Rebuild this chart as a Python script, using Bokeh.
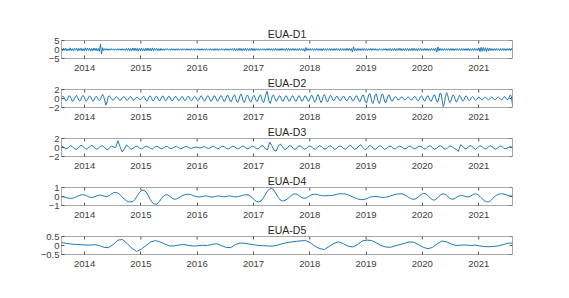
import pandas as pd
from bokeh.plotting import figure
from bokeh.layouts import column
from bokeh.models import Range1d, FixedTicker, DatetimeTickFormatter
from bokeh.embed import file_html
from bokeh.resources import INLINE

# ---------------- data ----------------
titles = ["EUA-D1", "EUA-D2", "EUA-D3", "EUA-D4", "EUA-D5"]
y_limits = [5, 2, 2, 1, 0.5]
y_ticks = [[-5, 0, 5], [-2, 0, 2], [-2, 0, 2], [-1, 0, 1], [-0.5, 0, 0.5]]
tick_years = [2014, 2015, 2016, 2017, 2018, 2019, 2020, 2021]
axis_start = "2013-08-04"
axis_end = "2021-08-08"

# weekly detail level 1
d1 = [
    0.6, -0.7, 0.8, -0.5, 0.7, -0.8, 0.4, -0.6, 0.9, -0.7, 0.5, -0.8, 0.7, -0.4, 0.8, -0.9, 0.6, -0.5, 0.7, -0.8,
    0.5, -0.7, 0.9, -0.6, 0.8, -0.5, 0.7, -0.9, 0.6, -0.7, 0.8, -0.5, 0.7, -0.8, 0.6, -1.0, 2.9, -2.5, 1.0, -0.6,
    0.5, -0.4, 0.5, -0.5, 0.4, -0.4, 0.5, -0.4, 0.4, -0.5, 0.4, -0.4, 0.5, -0.4, 0.4, -0.5, 0.5, -0.4, 0.4, -0.5,
    0.6, -0.5, 0.7, -0.8, 0.6, -0.7, 0.9, -0.6, 0.8, -0.7, 0.6, -0.9, 0.7, -0.6, 0.8, -0.7, 0.5, -0.8, 0.7, -0.6,
    0.8, -0.7, 0.6, -0.8, 0.9, -0.7, 0.6, -0.5, 0.7, -0.6, 0.5, -0.7, 0.6, -0.5, 0.4, -0.5, 0.5, -0.4, 0.5, -0.4,
    0.4, -0.5, 0.5, -0.4, 0.4, -0.5, 0.4, -0.4, 0.5, -0.4, 0.4, -0.5, 0.5, -0.4, 0.4, -0.4, 0.5, -0.4, 0.4, -0.5,
    0.5, -0.4, 0.4, -0.5, 0.4, -0.4, 0.5, -0.5, 0.4, -0.4, 0.5, -0.4, 0.4, -0.5, 0.5, -0.4, 0.4, -0.5, 0.5, -0.4,
    0.4, -0.5, 0.5, -0.4, 0.5, -0.5, 0.4, -0.4, 0.5, -0.4, 0.4, -0.5, 0.5, -0.4, 0.4, -0.5, 0.5, -0.4, 0.6, -0.5,
    0.6, -0.7, 0.5, -0.6, 0.7, -0.5, 0.6, -0.7, 0.5, -0.6, 0.7, -0.6, 0.5, -0.7, 0.6, -0.5, 0.7, -0.6, 0.5, -0.6,
    0.5, -0.4, 0.5, -0.5, 0.4, -0.4, 0.5, -0.4, 0.4, -0.5, 0.5, -0.4, 0.6, -0.5, 0.5, -0.6, 0.5, -0.5, 0.6, -0.5,
    0.5, -0.6, 0.5, -0.5, 0.6, -0.5, 0.5, -0.6, 0.7, -0.5, 0.6, -0.6, 0.5, -0.5, 0.6, -0.5, 0.5, -0.6, 0.5, -0.5,
    0.6, -0.5, 0.5, -0.6, 0.5, -1.0, 1.1, -0.6, 0.5, -0.5, 0.6, -0.5, 0.5, -0.6, 0.5, -0.5, 0.6, -0.5, 0.5, -0.6,
    0.5, -0.6, 0.6, -0.5, 0.5, -0.6, 0.5, -0.5, 0.6, -0.5, 0.5, -0.6, 0.5, -0.5, 0.6, -0.5, 0.5, -0.6, 0.5, -0.5,
    0.6, -0.5, 0.5, -0.6, 0.7, -0.5, 0.6, -0.6, 0.5, -1.4, 1.5, -0.7, 0.5, -0.7, 0.6, -0.5, 0.5, -0.6, 0.5, -0.5,
    0.6, -0.5, 0.5, -0.6, 0.5, -0.5, 0.6, -0.5, 0.5, -0.4, 0.5, -0.5, 0.4, -0.5, 0.5, -0.4, 0.4, -0.5, 0.5, -0.4,
    0.5, -0.6, 0.5, -0.5, 0.6, -0.7, 0.5, -0.6, 0.7, -0.6, 0.5, -0.6, 0.7, -0.5, 0.6, -0.7, 0.5, -0.6, 0.6, -0.5,
    0.6, -0.7, 0.5, -0.6, 0.7, -0.5, 0.6, -0.6, 0.5, -0.7, 0.6, -0.5, 0.7, -0.6, 0.5, -0.6, 0.6, -0.5, 0.5, -0.6,
    0.5, -0.6, 0.6, -0.5, 0.5, -0.7, 0.8, -1.5, 1.4, -0.7, 0.6, -0.5, 0.5, -0.6, 0.5, -0.5, 0.6, -0.5, 0.5, -0.6,
    0.6, -0.5, 0.5, -0.6, 0.5, -0.5, 0.6, -0.5, 0.5, -0.6, 0.6, -0.5, 0.5, -0.6, 0.5, -0.5, 0.6, -0.7, 0.5, -0.6,
    0.5, -0.6, 0.6, -0.5, 0.5, -0.6, 0.9, -1.1, 1.2, -1.0, 1.1, -0.9, 1.0, -1.2, 0.9, -0.8, 0.7, -0.6, 0.5, -0.6,
    0.5, -0.5, 0.6, -0.5, 0.5, -0.6, 0.5, -0.5, 0.6, -0.5, 0.5, -0.6, 0.5, -0.5, 0.6, -0.5, 0.5, -0.4,
]

# weekly detail level 2
d2 = [
    0.2, 0.5, 0.4, -0.1, -0.5, -0.4, 0.1, 0.6, 0.5, 0.0, -0.6, -0.5, 0.0, 0.5, 0.7, 0.2, -0.4, -0.6, -0.2, 0.4,
    0.7, 0.3, -0.3, -0.6, -0.3, 0.3, 0.6, 0.4, -0.2, -0.6, -0.4, 0.2, 0.5, 0.3, -0.2, -0.5, -0.2, 0.4, 0.9, 0.4,
    -0.5, -1.5, -0.8, 0.2, 0.6, 0.4, 0.0, -0.3, -0.4, -0.1, 0.3, 0.4, 0.2, -0.2, -0.4, -0.3, 0.1, 0.3, 0.4, 0.1,
    -0.3, -0.4, -0.1, 0.3, 0.4, 0.1, -0.3, -0.4, -0.1, 0.2, 0.3, 0.1, -0.2, -0.3, 0.0, 0.3, 0.5, 0.2, -0.4, -0.6,
    -0.2, 0.4, 0.6, 0.2, -0.4, -0.5, -0.1, 0.4, 0.5, 0.1, -0.4, -0.5, 0.0, 0.5, 0.5, 0.0, -0.5, -0.4, 0.1, 0.5,
    0.4, -0.1, -0.5, -0.4, 0.1, 0.4, 0.4, 0.0, -0.4, -0.4, 0.0, 0.4, 0.4, -0.1, -0.5, -0.3, 0.2, 0.5, 0.3, -0.2,
    -0.5, -0.3, 0.2, 0.5, 0.3, -0.2, -0.5, -0.3, 0.2, 0.6, 0.4, -0.2, -0.6, -0.4, 0.2, 0.6, 0.5, -0.1, -0.6, -0.5,
    0.1, 0.6, 0.5, -0.1, -0.6, -0.5, 0.1, 0.6, 0.6, 0.0, -0.6, -0.6, 0.0, 0.6, 0.7, 0.1, -0.6, -0.7, -0.1, 0.6,
    0.8, 0.2, -0.6, -0.9, -0.3, 0.6, 1.0, 0.4, -0.6, -0.9, -0.3, 0.5, 0.8, 0.3, -0.5, -0.8, -0.3, 0.4, 0.7, 0.2,
    -0.5, -0.7, -0.1, 0.6, 0.8, 0.1, -0.7, -0.9, 0.0, 0.9, 1.6, 0.6, -0.8, -1.1, -0.3, 0.6, 0.8, 0.2, -0.5, -0.6,
    -0.1, 0.5, 0.6, 0.1, -0.5, -0.6, -0.1, 0.5, 0.6, 0.1, -0.5, -0.6, 0.0, 0.5, 0.6, 0.1, -0.5, -0.6, -0.1, 0.5,
    0.6, 0.0, -0.6, -0.5, 0.1, 0.6, 0.5, -0.1, -0.6, -0.5, 0.2, 0.7, 0.6, -0.2, -0.8, -0.6, 0.3, 0.9, 0.5, -0.4,
    -0.9, -0.4, 0.5, 0.9, 0.4, -0.5, -0.8, -0.2, 0.5, 0.7, 0.2, -0.4, -0.5, -0.1, 0.4, 0.5, 0.1, -0.4, -0.5, -0.1,
    0.4, 0.5, 0.1, -0.4, -0.5, -0.1, 0.4, 0.5, 0.1, -0.5, -0.5, 0.0, 0.5, 0.6, 0.1, -0.5, -0.7, -0.1, 0.6, 0.8,
    0.1, -0.8, -1.0, -0.2, 0.8, 1.1, 0.3, -0.8, -1.1, -0.3, 0.8, 1.0, 0.2, -0.9, -1.1, -0.2, 0.9, 1.0, 0.1, -0.8,
    -0.9, -0.1, 0.7, 0.8, 0.1, -0.5, -0.6, -0.1, 0.3, 0.4, 0.1, -0.3, -0.3, 0.0, 0.3, 0.3, 0.0, -0.3, -0.3, 0.0,
    0.3, 0.3, 0.0, -0.3, -0.3, 0.1, 0.4, 0.4, 0.0, -0.4, -0.5, -0.1, 0.4, 0.6, 0.2, -0.4, -0.6, -0.1, 0.5, 0.6,
    0.1, -0.5, -0.6, 0.0, 0.7, 0.8, 0.1, -0.7, -0.8, 0.2, 1.2, 1.0, -0.5, -1.8, -1.1, 0.3, 1.3, 0.9, -0.3, -0.9,
    -0.6, 0.3, 0.8, 0.6, -0.2, -0.8, -0.6, 0.2, 0.7, 0.5, -0.2, -0.6, -0.4, 0.2, 0.6, 0.4, -0.2, -0.5, -0.3, 0.2,
    0.4, 0.2, -0.2, -0.4, -0.2, 0.2, 0.3, 0.1, -0.2, -0.3, -0.1, 0.2, 0.3, 0.1, -0.2, -0.3, -0.1, 0.2, 0.3, 0.1,
    -0.2, -0.3, -0.1, 0.2, 0.3, 0.1, -0.2, -0.3, 0.0, 0.3, 0.4, 0.1, -0.3, -0.2, 0.3, 0.8, 0.4, -1.5,
]

# biweekly detail level 3
d3 = [
    0.3, 0.1, -0.3, -0.1, 0.4, 0.2, -0.3, -0.4, 0.1, 0.5, 0.2, -0.3, -0.3,
    0.2, 0.5, 0.1, -0.4, -0.2, 0.3, 0.4, -0.1, -0.5, -0.2, 0.3, 0.1, 0.0,
    1.5, 0.2, -1.0, -0.3, 0.6, 0.1, -0.4, -0.2, 0.2, 0.3, -0.1, -0.3, 0.0,
    0.3, 0.1, -0.2, -0.3, 0.1, 0.3, 0.0, -0.3, -0.1, 0.2, 0.2, -0.2, -0.2,
    0.1, 0.3, 0.0, -0.3, -0.1, 0.2, 0.2, -0.1, -0.2, 0.0, 0.1, 0.0, -0.1,
    0.1, 0.2, -0.1, -0.2, 0.1, 0.3, 0.0, -0.3, -0.1, 0.3, 0.2, -0.2, -0.3,
    0.0, 0.3, 0.1, -0.3, -0.2, 0.2, 0.3, -0.1, -0.3, 0.0, 0.3, 0.1, -0.3,
    -0.2, 0.3, 0.4, -0.3, -0.5, 1.2, 0.4, -0.6, -0.8, 0.3, 0.8, 0.1, -0.5,
    -0.2, 0.4, 0.3, -0.3, -0.4, 0.2, 0.4, 0.0, -0.4, -0.2, 0.3, 0.3, -0.2,
    -0.4, 0.0, 0.4, 0.2, -0.3, -0.3, 0.2, 0.4, 0.0, -0.4, -0.2, 0.3, 0.3,
    -0.2, -0.4, 0.1, 0.5, 0.2, -0.4, -0.3, 0.3, 0.6, 0.0, -0.5, -0.2, 0.4,
    0.3, -0.3, -0.4, 0.2, 0.4, 0.0, -0.4, -0.2, 0.3, 0.3, -0.2, -0.3, 0.1,
    0.3, 0.1, -0.3, -0.2, 0.2, 0.3, -0.1, -0.3, 0.0, 0.3, 0.2, -0.3, -0.3,
    0.2, 0.4, 0.0, -0.4, -0.2, 0.3, 0.4, -0.1, -0.4, -0.1, 0.3, 0.3, -0.2,
    -0.4, -0.9, 0.6, 0.3, -0.3, -0.2, 0.3, 0.4, -0.1, -0.4, 0.0, 0.4, 0.2,
    -0.3, -0.3, 0.2, 0.4, 0.0, -0.4, -0.2, 0.3, 0.3, -0.2, -0.3, 0.0, 0.2, 0.0,
]

# biweekly detail level 4
d4 = [
    0.0, -0.05, -0.12, -0.18, -0.2, -0.2, -0.12, 0.0, 0.1, 0.18, 0.2, 0.15, 0.03,
    -0.08, -0.1, -0.05, 0.05, 0.12, 0.15, 0.1, 0.02, 0.0, 0.1, 0.28, 0.42, 0.45,
    0.38, 0.2, -0.05, -0.3, -0.48, -0.58, -0.6, -0.55, -0.3, 0.1, 0.45, 0.68, 0.7,
    0.5, 0.1, -0.35, -0.7, -0.85, -0.85, -0.6, -0.25, 0.05, 0.2, 0.18, 0.02, -0.18,
    -0.3, -0.28, -0.15, 0.0, 0.12, 0.2, 0.25, 0.25, 0.18, 0.08, 0.0, -0.05, -0.05,
    0.0, 0.05, 0.05, 0.0, -0.05, -0.05, 0.0, 0.05, 0.05, 0.0, -0.05, 0.0, 0.05,
    0.05, 0.0, -0.05, -0.03, 0.03, 0.1, 0.16, 0.2, 0.18, 0.05, -0.15, -0.38, -0.55,
    -0.6, -0.5, -0.2, 0.2, 0.6, 0.85, 0.9, 0.7, 0.3, -0.1, -0.4, -0.5, -0.45,
    -0.3, -0.1, 0.12, 0.27, 0.3, 0.2, 0.0, -0.15, -0.2, -0.15, 0.0, 0.15, 0.25,
    0.25, 0.22, 0.15, 0.1, 0.08, 0.08, 0.1, 0.1, 0.12, 0.18, 0.25, 0.3, 0.3,
    0.3, 0.28, 0.2, 0.1, -0.02, -0.12, -0.22, -0.3, -0.34, -0.35, -0.3, -0.2, -0.1,
    -0.03, 0.0, 0.0, -0.03, -0.07, -0.1, -0.1, -0.07, 0.0, 0.08, 0.16, 0.23, 0.28,
    0.3, 0.3, 0.22, 0.08, -0.08, -0.22, -0.3, -0.3, -0.15, 0.05, 0.25, 0.35, 0.3,
    0.1, -0.15, -0.35, -0.4, -0.25, 0.0, 0.22, 0.3, 0.25, 0.05, -0.18, -0.3, -0.28,
    -0.12, 0.03, 0.1, 0.1, 0.03, -0.05, -0.03, 0.1, 0.25, 0.3, 0.22, 0.0, -0.25,
    -0.45, -0.58, -0.6, -0.45, -0.2, 0.05, 0.2, 0.28, 0.3, 0.28, 0.2, 0.12, 0.07, 0.05,
]

# monthly detail level 5
d5 = [
    0.16, 0.12, 0.08, 0.06, 0.05, 0.03, 0.02, 0.05, 0.0, -0.1, -0.12, 0.05,
    0.3, 0.33, 0.1, -0.15, -0.33, -0.2, 0.0, 0.2, 0.27, 0.2, 0.08, -0.03,
    -0.02, 0.03, 0.05, 0.01, -0.03, -0.02, 0.02, 0.0, 0.06, 0.1, 0.0, -0.1,
    -0.12, 0.05, 0.14, 0.12, 0.08, 0.04, 0.0, -0.01, -0.03, -0.03, 0.02, 0.1,
    0.16, 0.2, 0.23, 0.26, 0.27, 0.15, -0.05, -0.18, -0.22, -0.05, 0.12, 0.2,
    0.1, -0.04, -0.08, 0.05, 0.25, 0.3, 0.28, 0.15, 0.0, -0.08, -0.1, -0.02,
    0.05, 0.12, 0.2, 0.18, 0.05, -0.1, -0.18, -0.1, 0.1, 0.25, 0.2, 0.08,
    0.0, 0.02, 0.03, 0.0, 0.02, -0.02, -0.06, -0.07, -0.05, -0.02, 0.05, 0.12,
    0.14,
]

series = [d1, d2, d3, d4, d5]

# ---------------- styling ----------------
LINE = "#1f78b4"
TEXT = "#404040"
BOX = "#a8a8a8"
TICK = "#555555"
FONT = "Liberation Sans"
FRAME_W, FRAME_H = 451, 18
TICK_LEN = 3  # px

x_start = pd.Timestamp(axis_start)
x_end = pd.Timestamp(axis_end)
year_dates = [pd.Timestamp(f"{y}-01-01") for y in tick_years]
year_ticks = [d.timestamp() * 1000.0 for d in year_dates]
fmt = DatetimeTickFormatter(years="%Y", months="%Y", days="%Y", hours="%Y",
                            minutes="%Y", seconds="%Y", milliseconds="%Y")

figs = []
for k, (name, vals, lim, yt) in enumerate(zip(titles, series, y_limits, y_ticks)):
    x = pd.date_range(x_start, x_end, periods=len(vals))
    top = 40 if k == 0 else 15
    p = figure(x_axis_type="datetime", frame_width=FRAME_W, frame_height=FRAME_H,
               x_range=Range1d(x_start, x_end), y_range=Range1d(-lim, lim),
               output_backend="svg", toolbar_location=None, title=name,
               min_border_left=61, min_border_right=40,
               min_border_top=top, min_border_bottom=16)
    p.title.align = "center"
    p.title.text_font = FONT
    p.title.text_font_size = "10.5px"
    p.title.text_font_style = "normal"
    p.title.text_color = "#262626"
    p.title.standoff = 1
    p.xgrid.visible = False
    p.ygrid.visible = False
    p.outline_line_color = BOX
    p.outline_line_width = 1
    p.background_fill_color = "white"
    p.border_fill_color = "white"

    xa = p.xaxis[0]
    xa.ticker = FixedTicker(ticks=year_ticks)
    xa.formatter = fmt
    ya = p.yaxis[0]
    ya.ticker = FixedTicker(ticks=yt)
    for ax in (xa, ya):
        ax.axis_line_color = None
        ax.major_tick_in = TICK_LEN
        ax.major_tick_out = 0
        ax.minor_tick_in = 0
        ax.minor_tick_out = 0
        ax.major_tick_line_color = TICK
        ax.major_label_text_font = FONT
        ax.major_label_text_font_size = "9.5px"
        ax.major_label_text_color = TEXT
    xa.major_label_standoff = 6
    ya.major_label_standoff = 2

    # mirrored inward ticks on the top and right edges of the box (MATLAB style)
    dy = TICK_LEN * (2 * lim) / FRAME_H
    p.segment(x0=year_dates, x1=year_dates, y0=[lim] * len(year_dates),
              y1=[lim - dy] * len(year_dates), line_color=TICK, line_width=1)
    dx = pd.Timedelta(milliseconds=TICK_LEN * (x_end - x_start).total_seconds() * 1000.0 / FRAME_W)
    p.segment(x0=[x_end] * len(yt), x1=[x_end - dx] * len(yt), y0=yt, y1=yt,
              line_color=TICK, line_width=1)

    p.line(x, vals, line_color=LINE, line_width=1)
    figs.append(p)

layout = column(*figs, spacing=0)
open("out.html", "w").write(file_html(layout, INLINE))
